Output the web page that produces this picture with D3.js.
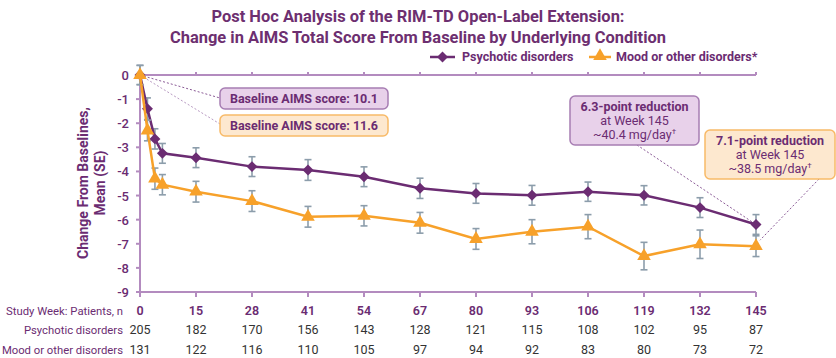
<!DOCTYPE html>
<html>
<head>
<meta charset="utf-8">
<script src="https://cdn.jsdelivr.net/npm/d3@7"></script>
<style>
  body { margin: 0; background: #fff; }
  svg { font-family: Roboto, "Open Sans", sans-serif; }
</style>
</head>
<body>
<svg width="836" height="358"></svg>
<script>
const svg = d3.select("svg");

// --- data ---
const tickWeeks = [0, 15, 28, 41, 54, 67, 80, 93, 106, 119, 132, 145];
const pointWeeks = [0, 2, 4, 6, 15, 28, 41, 54, 67, 80, 93, 106, 119, 132, 145];
const psychMean = [0, -1.4, -2.65, -3.25, -3.43, -3.8, -3.94, -4.22, -4.7, -4.91, -4.99, -4.84, -4.99, -5.5, -6.2];
const psychSE   = [0.4, 0.45, 0.42, 0.41, 0.41, 0.41, 0.43, 0.41, 0.42, 0.41, 0.41, 0.4, 0.4, 0.41, 0.41];
const moodMean  = [0, -2.3, -4.3, -4.55, -4.84, -5.23, -5.88, -5.84, -6.13, -6.8, -6.5, -6.29, -7.51, -7.02, -7.1];
const moodSE    = [0.4, 0.43, 0.44, 0.42, 0.43, 0.43, 0.43, 0.42, 0.43, 0.43, 0.5, 0.5, 0.57, 0.59, 0.43];
const psychN = [205, 182, 170, 156, 143, 128, 121, 115, 108, 102, 95, 87];
const moodN  = [131, 122, 116, 110, 105, 97, 94, 92, 83, 80, 73, 72];
const yTicks = [0, -1, -2, -3, -4, -5, -6, -7, -8, -9];

const purple = "#6b2c72";
const orange = "#f7a12a";
const axisColor = "#b38bbf";
const errColor = "#8c9dab";

const x0 = 140, x1 = 756, yTop = 75, yBot = 292;

// evenly spaced tick positions, linear within each interval
const x = d3.scaleLinear()
    .domain(tickWeeks)
    .range(tickWeeks.map((d, i) => x0 + i * (x1 - x0) / (tickWeeks.length - 1)));
const y = d3.scaleLinear().domain([0, -9]).range([yTop, yBot]);

// --- title ---
const title = svg.append("g").attr("fill", "#6d2f70").attr("font-weight", 700)
    .attr("text-anchor", "middle").attr("font-size", 16);
title.append("text").attr("x", 418).attr("y", 22)
    .attr("textLength", 413).attr("lengthAdjust", "spacingAndGlyphs")
    .text("Post Hoc Analysis of the RIM-TD Open-Label Extension:");
title.append("text").attr("x", 418).attr("y", 43)
    .attr("textLength", 496).attr("lengthAdjust", "spacingAndGlyphs")
    .text("Change in AIMS Total Score From Baseline by Underlying Condition");

// --- axes ---
const ax = svg.append("g").attr("stroke", axisColor).attr("stroke-width", 2);
ax.append("line").attr("x1", x0).attr("x2", x1).attr("y1", yTop).attr("y2", yTop);
ax.append("line").attr("x1", x0).attr("x2", x1).attr("y1", yBot).attr("y2", yBot);
ax.append("line").attr("x1", x0).attr("x2", x0).attr("y1", yTop).attr("y2", yBot);
ax.selectAll(".tt").data(tickWeeks).enter().append("line")
    .attr("x1", d => x(d)).attr("x2", d => x(d)).attr("y1", yTop).attr("y2", yTop - 3);
ax.selectAll(".bt").data(tickWeeks).enter().append("line")
    .attr("x1", d => x(d)).attr("x2", d => x(d)).attr("y1", yBot).attr("y2", yBot + 5);
ax.selectAll(".yt").data(yTicks).enter().append("line")
    .attr("x1", x0).attr("x2", x0 - 4).attr("y1", d => y(d)).attr("y2", d => y(d));

svg.append("g").selectAll("text").data(yTicks).enter().append("text")
    .attr("x", 129).attr("y", d => y(d) + 5)
    .attr("text-anchor", "end").attr("fill", purple).attr("font-size", 13).attr("font-weight", 500)
    .text(d => d);

// y title
const yt = svg.append("g").attr("transform", "translate(0,183) rotate(-90)")
    .attr("fill", purple).attr("font-weight", 700).attr("font-size", 14).attr("text-anchor", "middle");
yt.append("text").attr("x", 0).attr("y", 88).text("Change From Baselines,");
yt.append("text").attr("x", 0).attr("y", 105).text("Mean (SE)");

// --- callout leader lines ---
const lead = svg.append("g").attr("fill", "none").attr("stroke-width", 1).attr("stroke-dasharray", "2,2");
lead.append("line").attr("x1", x(0)).attr("y1", y(0)).attr("x2", 220).attr("y2", 98).attr("stroke", "#8a5a96");
lead.append("line").attr("x1", x(0)).attr("y1", y(0)).attr("x2", 220).attr("y2", 124).attr("stroke", "#b89ac2");
lead.append("line").attr("x1", 637).attr("y1", 145).attr("x2", x(145)).attr("y2", y(-6.2)).attr("stroke", "#8a5a96");
lead.append("line").attr("x1", 819).attr("y1", 179).attr("x2", x(145) + 4).attr("y2", y(-7.1) - 6).attr("stroke", "#8a5a96");

// --- series ---
function drawSeries(means, ses, color, symbol, size, rot) {
    const g = svg.append("g");
    const pts = pointWeeks.map((w, i) => ({w, m: means[i], se: ses[i]}));
    const eb = g.append("g").attr("stroke", errColor).attr("stroke-width", 1.6);
    pts.forEach(p => {
        eb.append("line").attr("x1", x(p.w)).attr("x2", x(p.w)).attr("y1", y(p.m - p.se)).attr("y2", y(p.m + p.se));
        [p.m - p.se, p.m + p.se].forEach(v => eb.append("line")
            .attr("x1", x(p.w) - 3.5).attr("x2", x(p.w) + 3.5).attr("y1", y(v)).attr("y2", y(v)));
    });
    g.append("path").datum(pts)
        .attr("fill", "none").attr("stroke", color).attr("stroke-width", 2.5)
        .attr("d", d3.line().x(d => x(d.w)).y(d => y(d.m)));
    g.selectAll("path.pt").data(pts).enter().append("path")
        .attr("fill", color)
        .attr("transform", d => `translate(${x(d.w)},${y(d.m)}) rotate(${rot})`)
        .attr("d", d3.symbol().type(symbol).size(size));
}
drawSeries(psychMean, psychSE, purple, d3.symbolSquare, 60, 45);
drawSeries(moodMean, moodSE, orange, d3.symbolTriangle, 80, 0);

// --- callout boxes ---
const lightPurple = "#e8d1ea", purpleEdge = "#a77db3";
const lightOrange = "#fde8cf", orangeEdge = "#f8ba68";

function box(xp, yp, w, h, fill, edge) {
    svg.append("rect").attr("x", xp).attr("y", yp).attr("width", w).attr("height", h)
        .attr("rx", 5).attr("fill", fill).attr("stroke", edge).attr("stroke-width", 1.5);
}
box(220, 88, 168, 21, lightPurple, purpleEdge);
box(220, 115, 168, 21, lightOrange, orangeEdge);
svg.append("text").attr("x", 304).attr("y", 103).attr("text-anchor", "middle")
    .attr("fill", purple).attr("font-weight", 700).attr("font-size", 12.5).text("Baseline AIMS score: 10.1");
svg.append("text").attr("x", 304).attr("y", 130).attr("text-anchor", "middle")
    .attr("fill", purple).attr("font-weight", 700).attr("font-size", 12.5).text("Baseline AIMS score: 11.6");

function reductionBox(xp, yp, w, fill, edge, lines) {
    box(xp, yp, w, 49, fill, edge);
    const t = svg.append("g").attr("fill", purple).attr("font-size", 12.5).attr("text-anchor", "middle");
    const cx = xp + w / 2;
    t.append("text").attr("x", cx).attr("y", yp + 15).attr("font-weight", 700).text(lines[0]);
    t.append("text").attr("x", cx).attr("y", yp + 29).text(lines[1]);
    const l3 = t.append("text").attr("x", cx).attr("y", yp + 43);
    l3.append("tspan").text(lines[2]);
    l3.append("tspan").attr("font-size", 8).attr("dy", -5).text("†");
}
reductionBox(570, 96, 129, lightPurple, purpleEdge, ["6.3-point reduction", "at Week 145", "~40.4 mg/day"]);
reductionBox(705, 130, 130, lightOrange, orangeEdge, ["7.1-point reduction", "at Week 145", "~38.5 mg/day"]);

// --- legend ---
const lg = svg.append("g");
lg.append("line").attr("x1", 430).attr("x2", 455).attr("y1", 57).attr("y2", 57).attr("stroke", purple).attr("stroke-width", 2.5);
lg.append("path").attr("transform", "translate(442.5,57) rotate(45)").attr("fill", purple).attr("d", d3.symbol().type(d3.symbolSquare).size(60)());
lg.append("text").attr("x", 462).attr("y", 61).attr("fill", purple).attr("font-weight", 700).attr("font-size", 12.5).text("Psychotic disorders");
lg.append("line").attr("x1", 589).attr("x2", 611).attr("y1", 57).attr("y2", 57).attr("stroke", orange).attr("stroke-width", 2.5);
lg.append("path").attr("transform", "translate(600,56)").attr("fill", orange).attr("d", d3.symbol().type(d3.symbolTriangle).size(80)());
lg.append("text").attr("x", 616).attr("y", 61).attr("fill", purple).attr("font-weight", 700).attr("font-size", 12.5).text("Mood or other disorders*");

// --- patient table ---
const tbl = svg.append("g").attr("font-size", 12.5);
const rows = [
    {label: "Study Week: Patients, n", vals: tickWeeks, y: 315, color: purple, weight: 600},
    {label: "Psychotic disorders", vals: psychN, y: 334, color: "#333", weight: 400},
    {label: "Mood or other disorders", vals: moodN, y: 354, color: "#333", weight: 400}
];
rows.forEach(r => {
    tbl.append("text").attr("x", 123).attr("y", r.y).attr("text-anchor", "end")
        .attr("font-size", 11.3).attr("fill", purple).text(r.label);
    tbl.selectAll(null).data(r.vals).enter().append("text")
        .attr("x", (d, i) => x(tickWeeks[i])).attr("y", r.y).attr("text-anchor", "middle")
        .attr("fill", r.color).attr("font-weight", r.weight).text(d => d);
});
</script>
</body>
</html>
